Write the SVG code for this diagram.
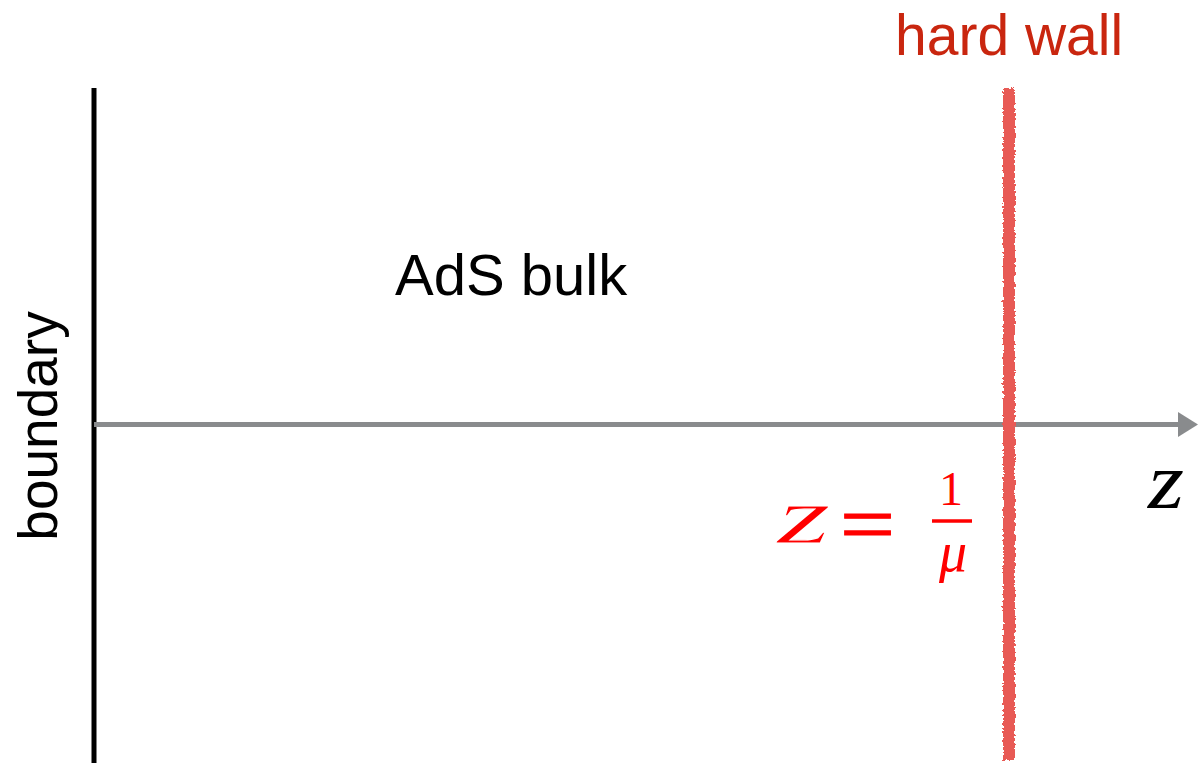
<svg xmlns="http://www.w3.org/2000/svg" width="1198" height="763" viewBox="0 0 1198 763">
  <style>
    .sans { font-family: "Liberation Sans", Arial, sans-serif; }
    .math { font-family: "Liberation Serif", "Times New Roman", serif; fill: #ff0000; }
    .thin { stroke: #ffffff; paint-order: fill stroke; }
  </style>
  <defs>
    <filter id="rough" x="-50%" y="-5%" width="200%" height="110%">
      <feTurbulence type="fractalNoise" baseFrequency="0.35" numOctaves="2" seed="3" result="n"/>
      <feDisplacementMap in="SourceGraphic" in2="n" scale="5" xChannelSelector="R" yChannelSelector="G"/>
    </filter>
  </defs>
  <rect width="1198" height="763" fill="#ffffff"/>

  <g id="boundary">
    <line x1="94" y1="88" x2="94" y2="763" stroke="#000000" stroke-width="5"/>
    <text class="sans" x="57" y="426" font-size="55" text-anchor="middle" transform="rotate(-90 57 426)" fill="#000000">boundary</text>
  </g>

  <g id="connectors">
    <line x1="94" y1="424.5" x2="1180" y2="424.5" stroke="#898b8d" stroke-width="5"/>
    <polygon points="1178,412 1198,424.5 1178,437" fill="#898b8d"/>
  </g>

  <g id="hard-wall">
    <rect x="1003" y="88" width="12" height="672" fill="#e85a54" filter="url(#rough)"/>
    <text class="sans" x="895" y="55" font-size="57" fill="#c9260f">hard wall</text>
  </g>

  <g id="bulk">
    <text class="sans" x="395" y="295" font-size="58" fill="#000000">AdS bulk</text>
  </g>

  <g id="axis-label">
    <text x="1148" y="508" font-size="80" font-style="italic" font-family="Liberation Serif, serif" fill="#000000" textLength="36" lengthAdjust="spacingAndGlyphs">z</text>
  </g>

  <g id="wall-position">
    <text class="math thin" x="777" y="543" font-size="80" font-style="italic" stroke-width="1.2" textLength="54" lengthAdjust="spacingAndGlyphs">z</text>
    <text class="math" x="840" y="552" font-size="82" stroke="#ff0000" stroke-width="1.2" textLength="55" lengthAdjust="spacingAndGlyphs">=</text>
    <text class="math" x="951" y="505" font-size="48" text-anchor="middle">1</text>
    <line x1="932" y1="521" x2="972" y2="521" stroke="#ff0000" stroke-width="3.5"/>
    <text class="math" x="953" y="571" font-size="56" font-style="italic" text-anchor="middle">μ</text>
  </g>
</svg>
